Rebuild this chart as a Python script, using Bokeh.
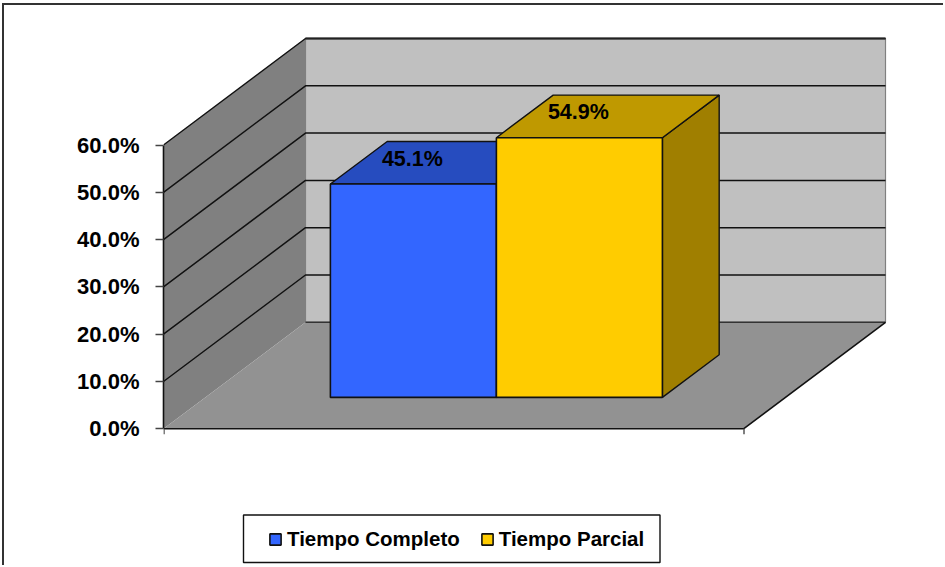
from bokeh.plotting import figure
from bokeh.models import Range1d, LinearAxis, FixedTicker, Legend, LegendItem
from bokeh.core.properties import value
from bokeh.embed import file_html
from bokeh.resources import INLINE

categories = ["Tiempo Completo", "Tiempo Parcial"]
values = [45.1, 54.9]
value_labels = ["45.1%", "54.9%"]
front_colors = ["#3366FF", "#FFCC00"]
top_colors = ["#264CBF", "#BF9900"]
side_colors = ["#1F3F9F", "#A07F00"]
ticks = [0, 10, 20, 30, 40, 50, 60]
tick_labels = ["0.0%", "10.0%", "20.0%", "30.0%", "40.0%", "50.0%", "60.0%"]

FONT = "Liberation Sans"
X0, Y0 = 4, 5          # where the canvas starts on the page, inside the CSS border
W, H = 945 - X0, 567 - Y0
ZERO_PX = 428.3
PX_PER_UNIT = 4.73
DEPTH_X, DEPTH_Y = 142.0, 106.5
FLOOR_L, FLOOR_R = 163.0, 743.0
BAR_X0, BAR_W = 288.0, 166.0
D0, D1 = 0.295, 0.695
DARK = "#111111"


def px(x, d=0.0):
    return x + DEPTH_X * d


def py(v, d=0.0):
    return v + DEPTH_Y * d / PX_PER_UNIT


TOP_V = ticks[-1]
p = figure(width=W, height=H, output_backend="svg", toolbar_location=None,
           x_axis_location=None, y_axis_location=None,
           min_border_left=int(FLOOR_L) - X0, min_border_right=0, min_border_top=0, min_border_bottom=0,
           x_range=Range1d(FLOOR_L, 945),
           y_range=Range1d((ZERO_PX - 567) / PX_PER_UNIT, (ZERO_PX - Y0) / PX_PER_UNIT))
p.outline_line_color = None
p.grid.visible = False
p.background_fill_color = "white"

# back wall, side wall, floor
p.patch([px(FLOOR_L, 1), px(FLOOR_R, 1), px(FLOOR_R, 1), px(FLOOR_L, 1)],
        [py(0, 1), py(0, 1), py(TOP_V, 1), py(TOP_V, 1)],
        fill_color="#C0C0C0", line_color="#808080", line_width=1.2)
p.patch([px(FLOOR_L), px(FLOOR_L, 1), px(FLOOR_L, 1), px(FLOOR_L)],
        [py(0), py(0, 1), py(TOP_V, 1), py(TOP_V)],
        fill_color="#808080", line_color=None)
p.patch([px(FLOOR_L), px(FLOOR_R), px(FLOOR_R, 1), px(FLOOR_L, 1)],
        [py(0), py(0), py(0, 1), py(0, 1)],
        fill_color="#929292", line_color=None)

# gridlines
for t in ticks[1:]:
    p.line([px(FLOOR_L), px(FLOOR_L, 1), px(FLOOR_R, 1)],
           [py(t), py(t, 1), py(t, 1)], line_color=DARK, line_width=1.5)
p.line([px(FLOOR_L, 1), px(FLOOR_R, 1)], [py(0, 1), py(0, 1)], line_color="#333333", line_width=1.4)
p.line([px(FLOOR_L, 1), px(FLOOR_R, 1)], [py(TOP_V, 1), py(TOP_V, 1)],
       line_color="#222222", line_width=2.2)

# floor front and right edges, with the category ticks
p.line([px(FLOOR_L), px(FLOOR_R), px(FLOOR_R, 1)], [py(0), py(0), py(0, 1)],
       line_color=DARK, line_width=1.6)
for x in (FLOOR_L, FLOOR_R):
    p.line([x + 0.5, x + 0.5], [0, -5.5 / PX_PER_UNIT], line_color="#555555", line_width=1.5)

# bars
fronts = []
for i, v in enumerate(values):
    x0, x1 = BAR_X0 + i * BAR_W, BAR_X0 + (i + 1) * BAR_W
    p.patch([px(x1, D0), px(x1, D1), px(x1, D1), px(x1, D0)],
            [py(0, D0), py(0, D1), py(v, D1), py(v, D0)],
            fill_color=side_colors[i], line_color=DARK, line_width=1.4)
    p.patch([px(x0, D0), px(x1, D0), px(x1, D1), px(x0, D1)],
            [py(v, D0), py(v, D0), py(v, D1), py(v, D1)],
            fill_color=top_colors[i], line_color=DARK, line_width=1.4)
    f = p.patch([px(x0, D0), px(x1, D0), px(x1, D0), px(x0, D0)],
                [py(0, D0), py(0, D0), py(v, D0), py(v, D0)],
                fill_color=front_colors[i], line_color=DARK, line_width=1.6)
    fronts.append(f)
    p.text([px((x0 + x1) / 2, D0) - 1], [py(v, (D0 + D1) / 2) + 4 / PX_PER_UNIT],
           text=[value_labels[i]], text_font=value(FONT), text_font_style="bold",
           text_font_size="21.5px", text_align="center", text_baseline="middle",
           text_color="black")

# axis
axis = LinearAxis(ticker=FixedTicker(ticks=ticks),
                  major_label_overrides=dict(zip(ticks, tick_labels)),
                  bounds=(0, TOP_V))
axis.major_tick_in = 0
axis.major_tick_out = 8
axis.minor_tick_line_color = None
axis.major_tick_line_color = "#444444"
axis.major_tick_line_width = 1.5
axis.axis_line_color = DARK
axis.axis_line_width = 1.6
axis.major_label_text_font = FONT
axis.major_label_text_font_style = "bold"
axis.major_label_text_font_size = "22px"
axis.major_label_text_color = "black"
axis.major_label_standoff = 16
p.add_layout(axis, "left")

# legend
p.quad(left=[243], right=[659.5], top=[(ZERO_PX - 514.5) / PX_PER_UNIT],
       bottom=[(ZERO_PX - 562) / PX_PER_UNIT],
       fill_color="white", line_color=DARK, line_width=1.4)
legend = Legend(items=[LegendItem(label=c, renderers=[f]) for c, f in zip(categories, fronts)],
                orientation="horizontal", location=(105, 16),
                background_fill_alpha=0, border_line_color=None,
                label_text_font=FONT, label_text_font_style="bold",
                label_text_font_size="20.5px", label_text_color="black",
                glyph_width=14, glyph_height=14, label_standoff=5, spacing=20,
                padding=8, margin=0)
p.add_layout(legend, "center")

p.styles = {"position": "absolute", "left": f"{X0 - 2}px", "top": f"{Y0 - 2}px",
            "border-left": "2px solid #333333", "border-top": "2px solid #333333"}

open("out.html", "w").write(file_html(p, INLINE))
